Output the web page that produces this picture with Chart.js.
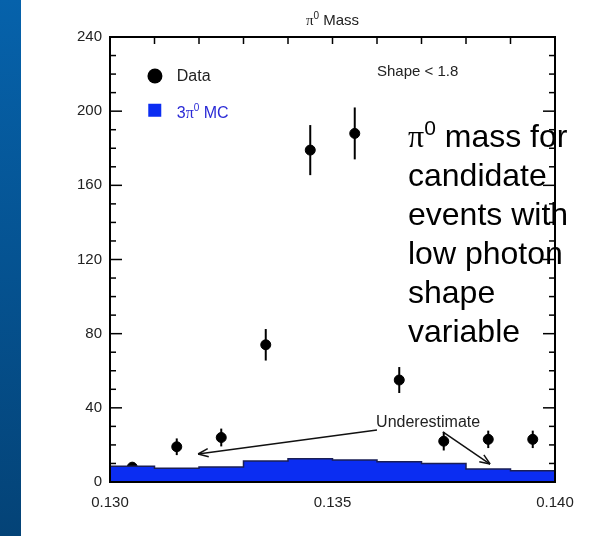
<!DOCTYPE html>
<html>
<head>
<meta charset="utf-8">
<script src="https://cdn.jsdelivr.net/npm/chart.js@4.4.0/dist/chart.umd.min.js"></script>
<style>
  html, body { margin: 0; padding: 0; background: #fff; }
  #wrap { position: relative; width: 594px; height: 536px; overflow: hidden; }
  #strip { position: absolute; left: 0; top: 0; width: 21px; height: 536px;
           background: linear-gradient(#0662ab, #044377); }
  #c { position: absolute; left: 0; top: 0; }
  #note { position: absolute; left: 408px; top: 117px; font: 32px 'Liberation Sans', Arial, sans-serif;
          line-height: 39px; color: #000; white-space: nowrap; }
  #note .pi { font-family: 'Liberation Serif', 'DejaVu Serif', serif; }
  #note sup { font-size: 21px; line-height: 0; vertical-align: 12px; }
</style>
</head>
<body>
<div id="wrap">
  <div id="strip"></div>
  <canvas id="c" width="594" height="536"></canvas>
  <div id="note"><span class="pi">π</span><sup>0</sup> mass for<br>candidate<br>events with<br>low photon<br>shape<br>variable</div>
</div>
<script>
// ---- data ----
const binEdges = [0.130, 0.131, 0.132, 0.133, 0.134, 0.135, 0.136, 0.137, 0.138, 0.139, 0.140];
const mcCounts = [8.5, 7.4, 8.1, 11.3, 12.5, 11.8, 10.9, 10.0, 7.0, 6.1];
const binCenters = [0.1305, 0.1315, 0.1325, 0.1335, 0.1345, 0.1355, 0.1365, 0.1375, 0.1385, 0.1395];
const dataCounts = [8, 19, 24, 74, 179, 188, 55, 22, 23, 23];
const dataErrors = [2.5, 4.5, 4.8, 8.5, 13.5, 14, 7, 5, 4.7, 4.7];

const yTicks = [0, 10, 20, 30, 40, 50, 60, 70, 80, 90, 100, 110, 120, 130, 140, 150, 160, 170, 180, 190, 200, 210, 220, 230, 240];
const xTopTicks = [0.131, 0.132, 0.133, 0.134, 0.135, 0.136, 0.137, 0.138, 0.139];

const FONT = "'Liberation Sans', Arial, Helvetica, sans-serif";
const SERIF = "'Liberation Serif', 'DejaVu Serif', serif";

// step histogram needs the last edge repeated
const mcPoints = binEdges.map((e, i) => ({ x: e, y: mcCounts[Math.min(i, mcCounts.length - 1)] }));
const dataPoints = binCenters.map((c, i) => ({ x: c, y: dataCounts[i] }));

function line(ctx, x1, y1, x2, y2) {
  ctx.beginPath(); ctx.moveTo(x1, y1); ctx.lineTo(x2, y2); ctx.stroke();
}

function arrow(ctx, x1, y1, x2, y2) {
  line(ctx, x1, y1, x2, y2);
  const ang = Math.atan2(y2 - y1, x2 - x1);
  const L = 11, s = 0.38;
  line(ctx, x2, y2, x2 - L * Math.cos(ang - s), y2 - L * Math.sin(ang - s));
  line(ctx, x2, y2, x2 - L * Math.cos(ang + s), y2 - L * Math.sin(ang + s));
}

// rich text runs: [text, font, color, raise]
function runs(ctx, parts, x, y, align) {
  let w = 0;
  parts.forEach(p => { ctx.font = p[1]; w += ctx.measureText(p[0]).width; });
  let cx = align === 'center' ? x - w / 2 : x;
  parts.forEach(p => {
    ctx.font = p[1]; ctx.fillStyle = p[2];
    ctx.fillText(p[0], cx, y - (p[3] || 0));
    cx += ctx.measureText(p[0]).width;
  });
}

const errorBars = {
  id: 'errorBars',
  beforeDatasetsDraw(chart) {
    const { ctx, scales: { x, y } } = chart;
    ctx.save();
    ctx.strokeStyle = '#000';
    ctx.lineWidth = 2;
    binCenters.forEach((c, i) => {
      const px = x.getPixelForValue(c);
      line(ctx, px, y.getPixelForValue(dataCounts[i] - dataErrors[i]), px, y.getPixelForValue(dataCounts[i] + dataErrors[i]));
    });
    ctx.restore();
  }
};

const frame = {
  id: 'frame',
  afterDatasetsDraw(chart) {
    const { ctx, chartArea: a, scales: { x, y } } = chart;
    ctx.save();
    ctx.strokeStyle = '#000';
    ctx.lineWidth = 1.5;
    yTicks.forEach(v => {
      const py = y.getPixelForValue(v);
      const len = v % 40 === 0 ? 12 : 6;
      line(ctx, a.left, py, a.left + len, py);
      line(ctx, a.right, py, a.right - len, py);
    });
    xTopTicks.forEach(v => {
      const px = x.getPixelForValue(v);
      line(ctx, px, a.top, px, a.top + 7);
    });
    ctx.lineWidth = 2;
    ctx.strokeRect(a.left, a.top, a.right - a.left, a.bottom - a.top);
    ctx.restore();
  }
};

const labels = {
  id: 'labels',
  afterDraw(chart) {
    const { ctx, chartArea: a, scales: { x, y } } = chart;
    ctx.save();
    ctx.textBaseline = 'alphabetic';
    // title
    runs(ctx, [['π', '15px ' + SERIF, '#222'], ['0', '10px ' + FONT, '#222', 6], [' Mass', '15px ' + FONT, '#222']],
      (a.left + a.right) / 2, a.top - 12, 'center');
    // legend
    ctx.fillStyle = '#000';
    ctx.beginPath();
    ctx.arc(x.getPixelForValue(0.13101), y.getPixelForValue(219), 7.5, 0, Math.PI * 2);
    ctx.fill();
    runs(ctx, [['Data', '16px ' + FONT, '#222']], x.getPixelForValue(0.1315), y.getPixelForValue(216.5));
    ctx.fillStyle = '#0b2df2';
    const sx = x.getPixelForValue(0.13086), sy = y.getPixelForValue(204);
    ctx.fillRect(sx, sy, 13, 13);
    runs(ctx, [['3', '16px ' + FONT, '#2b2bd6'], ['π', '16px ' + SERIF, '#2b2bd6'], ['0', '10px ' + FONT, '#2b2bd6', 7], [' MC', '16px ' + FONT, '#2b2bd6']],
      x.getPixelForValue(0.1315), y.getPixelForValue(196.5));
    // cut label
    runs(ctx, [['Shape < 1.8', '15px ' + FONT, '#222']], x.getPixelForValue(0.136), y.getPixelForValue(219));
    // underestimate annotation
    runs(ctx, [['Underestimate', '16px ' + FONT, '#222']], x.getPixelForValue(0.13598), y.getPixelForValue(29.5));
    ctx.strokeStyle = '#111';
    ctx.lineWidth = 1.5;
    arrow(ctx, x.getPixelForValue(0.13600), y.getPixelForValue(28), x.getPixelForValue(0.13198), y.getPixelForValue(15.1));
    arrow(ctx, x.getPixelForValue(0.13748), y.getPixelForValue(27), x.getPixelForValue(0.13854), y.getPixelForValue(9.7));
    ctx.restore();
  }
};

Chart.defaults.font.family = FONT;

new Chart(document.getElementById('c'), {
  type: 'scatter',
  data: {
    datasets: [
      {
        type: 'line',
        label: '3π0 MC',
        data: mcPoints,
        stepped: 'before',
        fill: 'origin',
        backgroundColor: '#0b2df2',
        borderColor: '#1a1f55',
        borderWidth: 1.5,
        pointRadius: 0,
        order: 0
      },
      {
        label: 'Data',
        data: dataPoints,
        backgroundColor: '#000',
        borderColor: '#000',
        pointRadius: 5,
        order: 1
      }
    ]
  },
  options: {
    responsive: false,
    animation: false,
    devicePixelRatio: 1,
    layout: { padding: { top: 37, right: 39, left: 0, bottom: 0 } },
    plugins: { legend: { display: false }, tooltip: { enabled: false } },
    scales: {
      x: {
        type: 'linear', min: 0.13, max: 0.14,
        grid: { display: false, drawTicks: false },
        border: { display: false },
        ticks: { stepSize: 0.005, maxRotation: 0, autoSkip: false, padding: 12,
                 font: { size: 15 }, color: '#222', callback: v => v.toFixed(3) },
        afterFit: s => { s.height = 54; }
      },
      y: {
        min: 0, max: 240,
        grid: { display: false, drawTicks: false },
        border: { display: false },
        ticks: { stepSize: 40, padding: 8, font: { size: 15 }, color: '#222' },
        afterFit: s => { s.width = 110; }
      }
    }
  },
  plugins: [errorBars, frame, labels]
});
</script>
</body>
</html>
